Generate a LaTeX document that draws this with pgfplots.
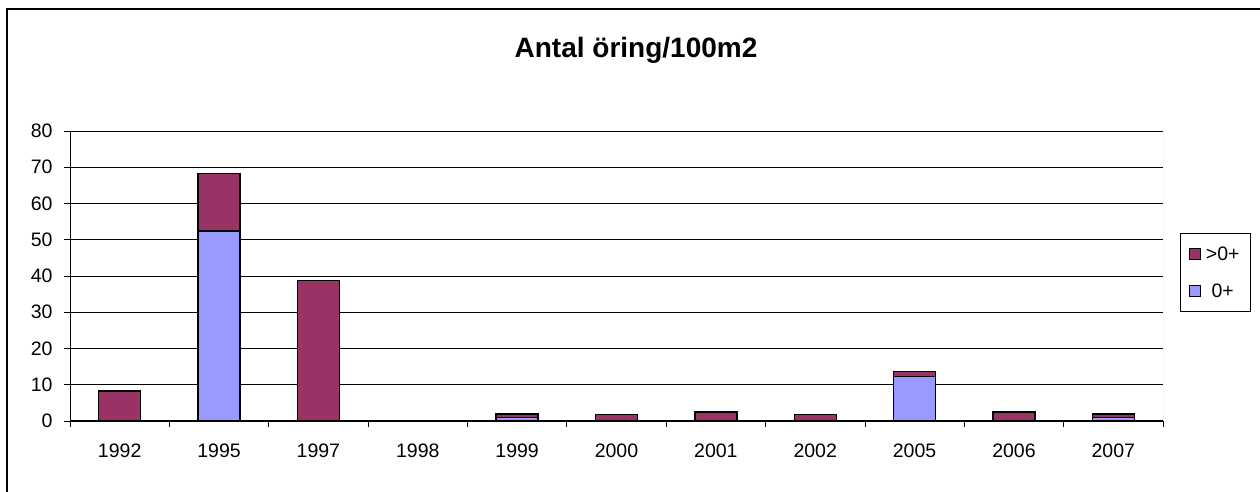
\documentclass[border=0pt]{standalone}
\usepackage{pgfplots}
\pgfplotsset{compat=1.18}
\usepackage{fontspec}
\setmainfont{Liberation Sans}
\definecolor{maroonx}{HTML}{993366}
\definecolor{bluex}{HTML}{9999FF}
\begin{document}
\begin{tikzpicture}
\useasboundingbox (0pt,0pt) rectangle (1260pt,492pt);
\fill[white] (0pt,0pt) rectangle (1260pt,492pt);
\draw[black, line width=1.2pt] (7pt,0pt) -- (7pt,483pt) -- (1270pt,483pt);
\node[font=\fontsize{28}{32}\selectfont\bfseries, anchor=base] at (636pt,434pt) {Antal öring/100m2};
\begin{axis}[
  at={(70pt,71pt)}, anchor=south west,
  scale only axis, width=1093pt, height=290pt,
  ybar stacked, bar width=42pt,
  xmin=-0.5, xmax=10.5, ymin=0, ymax=80,
  xtick={0,...,10},
  xticklabels={1992,1995,1997,1998,1999,2000,2001,2002,2005,2006,2007},
  minor xtick={-0.5,0.5,...,10.5},
  ytick={0,10,...,80},
  tick align=outside, tickpos=left,
  major x tick style={draw=none},
  minor tick length=6pt, major tick length=6pt,
  every tick/.style={black, line width=0.8pt},
  ymajorgrids, grid style={black, line width=0.8pt},
  axis line style={draw=none},
  tick label style={font=\fontsize{19.5}{22}\selectfont},
  /pgf/number format/assume math mode=true,
  xticklabel style={yshift=-13pt},
  yticklabel style={xshift=-8pt},
  legend style={at={(1.0156,0.648)}, anchor=north west, draw=black, line width=0.8pt,
    font=\fontsize{19.5}{22}\selectfont, row sep=18pt, inner xsep=9pt, inner ysep=11pt},
  reverse legend,
  legend image code/.code={\path[draw=none, fill=none] (0pt,0pt) -- (14pt,0pt);\draw[#1, line width=1pt] (0pt,-5pt) rectangle (11pt,6pt);},
]
\draw[gray!60, line width=1pt] (rel axis cs:1,0) -- (rel axis cs:1,1);
\draw[black, line width=1pt] (rel axis cs:0,0) -- (rel axis cs:0,1);
\addplot[fill=bluex, draw=black, line width=1.4pt] coordinates {
(0,0) (1,52.4) (2,0) (3,0) (4,1.0) (5,0) (6,0) (7,0) (8,12.3) (9,0) (10,1.0)};
\addlegendentry{0+}
\addplot[fill=maroonx, draw=black, line width=1.4pt] coordinates {
(0,8.3) (1,15.9) (2,38.8) (3,0) (4,0.9) (5,1.8) (6,2.5) (7,1.8) (8,1.3) (9,2.5) (10,0.9)};
\addlegendentry{>0+}
\draw[black, line width=1pt] (rel axis cs:0,0) -- (rel axis cs:1,0);
\end{axis}
\end{tikzpicture}
\end{document}
